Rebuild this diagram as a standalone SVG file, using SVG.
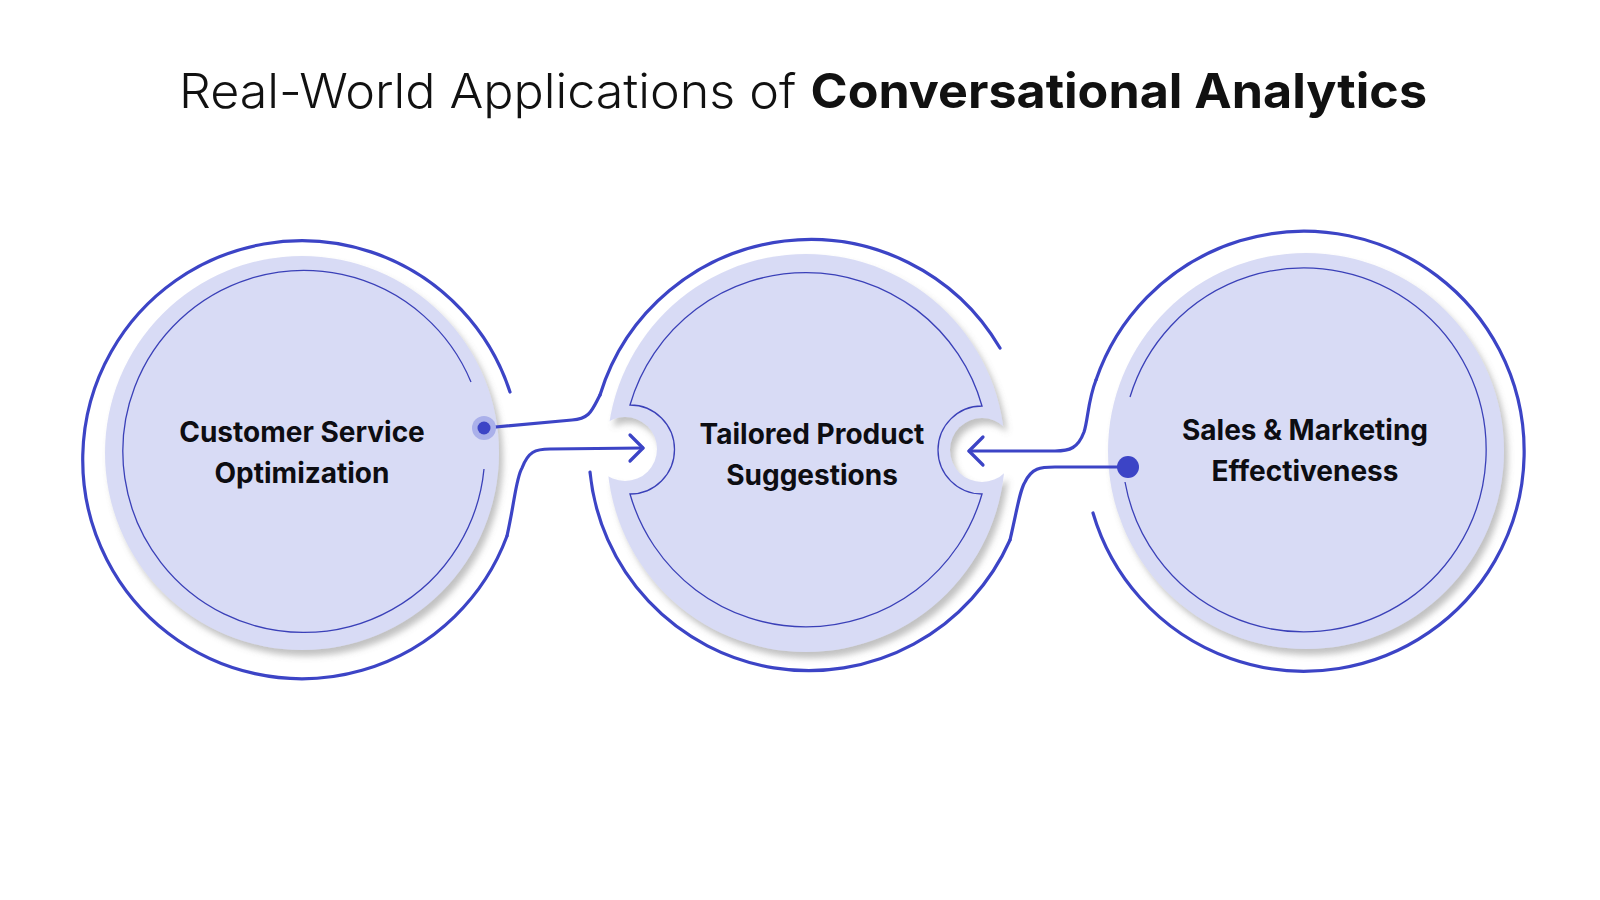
<svg xmlns="http://www.w3.org/2000/svg" width="1600" height="900" viewBox="0 0 1600 900">
<style>
.ring{fill:none;stroke:#3c44c6;stroke-width:3.2;stroke-linecap:round;stroke-linejoin:round}
.thin{fill:none;stroke:#3a40b8;stroke-width:1.3}
.disc{fill:#d8dbf5}
.lbl{font-family:Inter,"DejaVu Sans",sans-serif;font-weight:700;font-size:28px;fill:#0d0d12;text-anchor:middle}
.dot{fill:#3c44c6}
</style>
<defs>
<filter id="sh" x="-10%" y="-10%" width="130%" height="130%">
<feDropShadow dx="4" dy="6" stdDeviation="3" flood-color="#777" flood-opacity="0.45"/>
</filter>
<mask id="cm" maskUnits="userSpaceOnUse" x="0" y="0" width="1600" height="900">
<circle cx="806" cy="453" r="199" fill="#fff"/>
<circle cx="625" cy="449" r="32" fill="#000"/>
<circle cx="982" cy="450" r="32" fill="#000"/>
</mask>
</defs>
<rect width="1600" height="900" fill="#fff"/>
<text x="803" y="108" text-anchor="middle" font-family="Inter,'DejaVu Sans',sans-serif" font-size="48" fill="#111" textLength="1248" lengthAdjust="spacingAndGlyphs"><tspan font-weight="300">Real-World Applications of </tspan><tspan font-weight="700">Conversational Analytics</tspan></text>

<g id="node-customer-service">
<circle class="disc" cx="302" cy="453" r="197" filter="url(#sh)"/>
<path class="thin" d="M484,469 A181 181 0 1 1 471,382"/>
<path class="ring" d="M510,392 A219 219 0 1 0 507,536"/>
<text class="lbl"><tspan x="302" y="442">Customer Service</tspan><tspan x="302" y="483">Optimization</tspan></text>
</g>

<g id="node-tailored-product">
<g filter="url(#sh)"><rect x="600" y="250" width="420" height="410" class="disc" mask="url(#cm)"/></g>
<path class="thin" d="M630,405 A183 183 0 0 1 982,406 A44 44 0 0 0 982,494 A183 183 0 0 1 630,494 A44 44 0 0 0 630,405 Z"/>
<path class="ring" d="M1000,348 A220 220 0 0 0 600,395"/>
<path class="ring" d="M590,472 A220 220 0 0 0 1010,540"/>
<text class="lbl"><tspan x="812" y="444">Tailored Product</tspan><tspan x="812" y="485">Suggestions</tspan></text>
</g>

<g id="node-sales-marketing">
<circle class="disc" cx="1306" cy="451" r="198" filter="url(#sh)"/>
<path class="thin" d="M1130,397 A182 182 0 1 1 1125,482"/>
<path class="ring" d="M1093,513 A220 220 0 1 0 1096,380"/>
<text class="lbl"><tspan x="1305" y="440">Sales &amp; Marketing</tspan><tspan x="1305" y="481">Effectiveness</tspan></text>
</g>

<g id="connectors">
<path class="ring" d="M600,395 C592,410 590,419 572,420 L485,428"/>
<circle cx="484" cy="428" r="12" fill="#aab0ea"/>
<circle class="dot" cx="484" cy="428" r="6.5"/>
<path class="ring" d="M507,536 C515,500 516,478 522,468 C528,452 535,449 550,449 L643,448"/>
<polyline class="ring" points="630,435 643,448 630,461"/>
<path class="ring" d="M1010,540 C1018,505 1020,490 1025,482 C1032,468 1040,467 1055,467 L1128,467"/>
<circle class="dot" cx="1128" cy="467" r="11"/>
<path class="ring" d="M1096,380 C1088,400 1088,420 1084,432 C1078,448 1070,451 1055,451 L969,451"/>
<polyline class="ring" points="983,437 969,451 983,465"/>
</g>
</svg>
